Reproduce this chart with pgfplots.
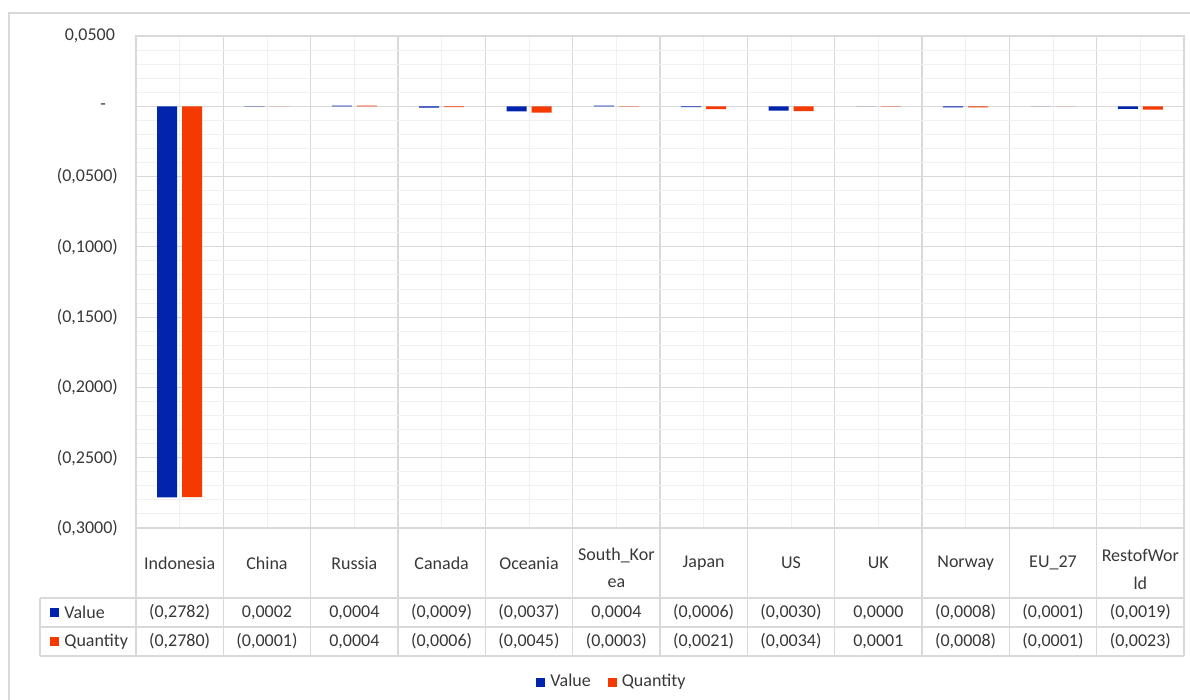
\documentclass[border=0pt]{standalone}
\usepackage{pgfplots}
\pgfplotsset{compat=1.18}
\usepackage{fontspec}
\setmainfont{Carlito}
\definecolor{vblue}{HTML}{0024AC}
\definecolor{qorange}{HTML}{F43A00}
\definecolor{gridc}{HTML}{D9D9D9}
\definecolor{minc}{HTML}{F0F0F0}
\definecolor{txt}{HTML}{383838}
\begin{document}
\begin{tikzpicture}[font=\fontsize{9}{11}\selectfont, text=txt]
\useasboundingbox (0,0) rectangle (595pt,-350pt);
\draw[gridc, line width=0.6pt] (4.5pt,-6.5pt) rectangle (600pt,-360pt);
\begin{axis}[
  at={(68pt,-264pt)}, anchor=south west,
  scale only axis, width=524pt, height=246pt,
  xmin=0, xmax=12, ymin=-0.3, ymax=0.05,
  ytick={-0.3,-0.25,-0.2,-0.15,-0.1,-0.05,0,0.05},
  yticklabels={{(0,3000)},{(0,2500)},{(0,2000)},{(0,1500)},{(0,1000)},{(0,0500)},{-\hspace*{6pt}},{0,0500\hspace*{1.5pt}}},
  minor y tick num=4,
  xtick={0,1,...,12}, xticklabels={},
  minor xtick={0.5,1.5,...,11.5},
  grid=both,
  major grid style={gridc, line width=0.6pt},
  minor grid style={minc, line width=0.5pt},
  axis line style={gridc, line width=0.6pt},
  tick style={draw=none},
  yticklabel style={anchor=east, xshift=-5.5pt, text=txt},
  ybar=2.5pt, bar width=10pt,
  legend columns=2,
  legend style={at={(0.4547,-0.313)}, anchor=center, draw=none, fill=none,
    nodes={inner sep=1.5pt, text=txt},
    /tikz/every odd column/.append style={column sep=1pt},
    /tikz/every even column/.append style={column sep=7pt}},
  legend image code/.code={\fill[#1] (0pt,-2.25pt) rectangle (4.5pt,2.25pt);},
]
\addplot[fill=vblue, draw=none] coordinates {(0.5,-0.2782) (1.5,0.0002) (2.5,0.0004) (3.5,-0.0009) (4.5,-0.0037) (5.5,0.0004) (6.5,-0.0006) (7.5,-0.0030) (8.5,0.0000) (9.5,-0.0008) (10.5,-0.0001) (11.5,-0.0019)};
\addlegendentry{Value}
\addplot[fill=qorange, draw=none] coordinates {(0.5,-0.2780) (1.5,-0.0001) (2.5,0.0004) (3.5,-0.0006) (4.5,-0.0045) (5.5,-0.0003) (6.5,-0.0021) (7.5,-0.0034) (8.5,0.0001) (9.5,-0.0008) (10.5,-0.0001) (11.5,-0.0023)};
\addlegendentry{Quantity}
\end{axis}
\begin{scope}[x=0.5pt, y=-0.5pt]
  \draw[gridc, line width=0.6pt] (40,598) -- (1184,598) (40,627) -- (1184,627) (40,656) -- (1184,656) (40,598) -- (40,656);
  \foreach \i in {0,...,12} {\draw[gridc, line width=0.6pt] ({136+87.333*\i},528) -- ({136+87.333*\i},656);}
  \foreach \t [count=\i from 0] in {Indonesia,China,Russia,Canada,Oceania,,Japan,US,UK,Norway,EU\_27,}
    {\node at ({136+87.333*(\i+0.5)},563) {\t};}
  \node at ({136+87.333*5.5},555) {South\_Kor};
  \node at ({136+87.333*5.5},583) {ea};
  \node at ({136+87.333*11.5},555) {RestofWor};
  \node at ({136+87.333*11.5},583) {ld};
  \foreach \t [count=\i from 0] in {{(0,2782)},{0,0002},{0,0004},{(0,0009)},{(0,0037)},{0,0004},{(0,0006)},{(0,0030)},{0,0000},{(0,0008)},{(0,0001)},{(0,0019)}}
    {\node at ({136+87.333*(\i+0.5)},612.5) {\t};}
  \foreach \t [count=\i from 0] in {{(0,2780)},{(0,0001)},{0,0004},{(0,0006)},{(0,0045)},{(0,0003)},{(0,0021)},{(0,0034)},{0,0001},{(0,0008)},{(0,0001)},{(0,0023)}}
    {\node at ({136+87.333*(\i+0.5)},641.5) {\t};}
  \fill[vblue] (50,608) rectangle (59,617);
  \node[anchor=west, inner sep=0pt] at (64,612.5) {Value};
  \fill[qorange] (50,637) rectangle (59,646);
  \node[anchor=west, inner sep=0pt] at (64,641.5) {Quantity};
\end{scope}
\end{tikzpicture}
\end{document}
